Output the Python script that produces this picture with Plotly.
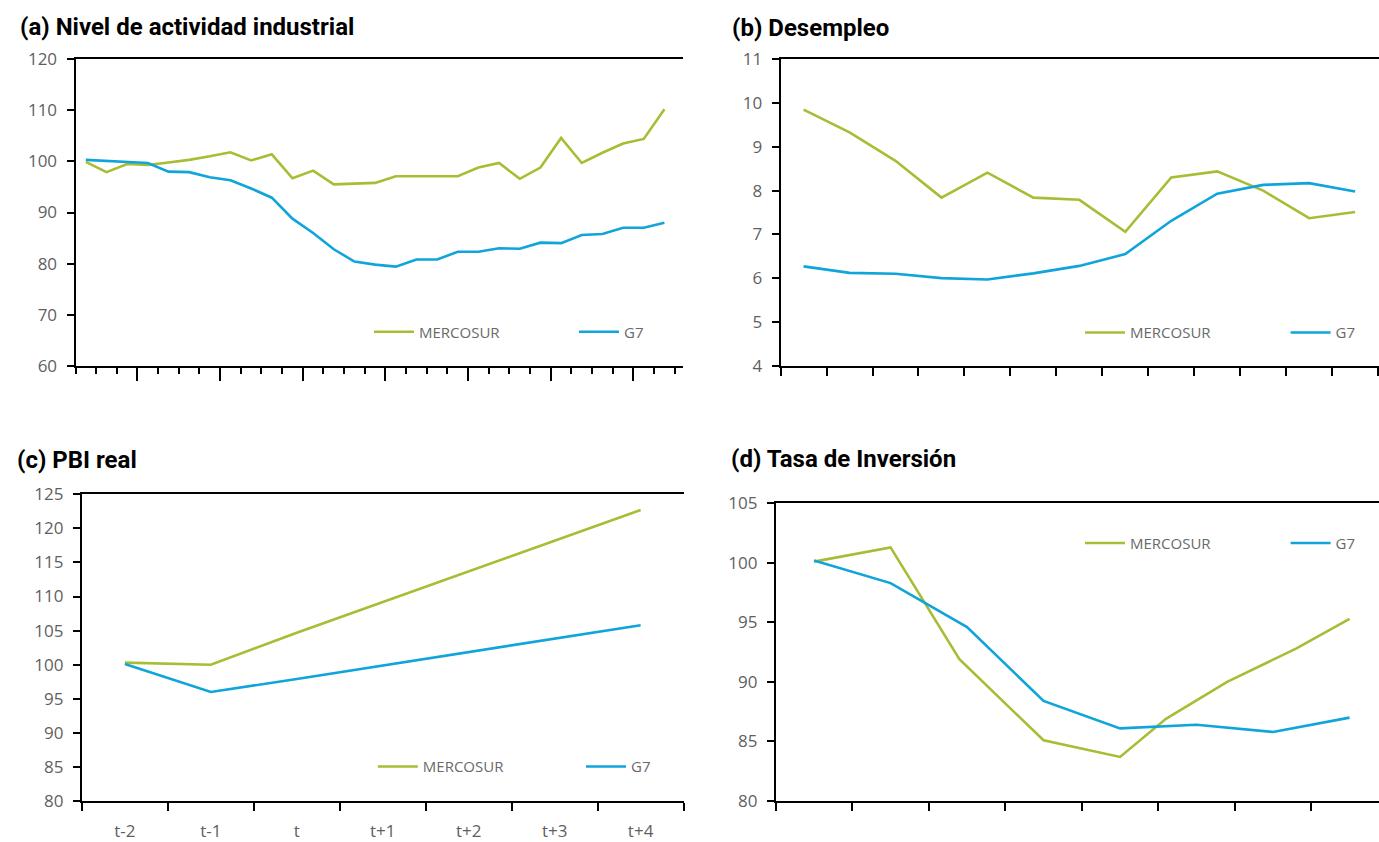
import plotly.graph_objects as go

W, H = 1379, 842

# ---------------- data ----------------
# (a) Nivel de actividad industrial
ind_mercosur = [99.9, 97.9, 99.5, 99.3, 99.8, 100.3, 101.0, 101.8, 100.2, 101.4,
                96.7, 98.2, 95.5, 95.6, 95.8, 97.1, 97.1, 97.1, 97.1, 98.8,
                99.7, 96.6, 98.8, 104.6, 99.7, 101.7, 103.5, 104.4, 110.2]
ind_g7 = [100.3, 100.1, 99.9, 99.7, 98.0, 97.9, 96.9, 96.3, 94.7, 92.9,
          88.8, 86.0, 82.8, 80.4, 79.8, 79.4, 80.8, 80.8, 82.3, 82.3,
          83.0, 82.9, 84.1, 84.0, 85.6, 85.8, 87.0, 87.0, 88.0]

# (b) Desempleo
des_mercosur = [9.85, 9.33, 8.68, 7.84, 8.41, 7.84, 7.79, 7.06, 8.30, 8.44, 8.00, 7.37, 7.51]
des_g7 = [6.27, 6.12, 6.10, 6.00, 5.97, 6.11, 6.28, 6.55, 7.31, 7.93, 8.13, 8.17, 7.98]

# (c) PBI real
pbi_labels = ["t-2", "t-1", "t", "t+1", "t+2", "t+3", "t+4"]
pbi_mercosur = [100.3, 100.0, 104.7, 109.2, 113.8, 118.3, 122.7]
pbi_g7 = [100.1, 96.0, 97.9, 99.9, 101.9, 103.9, 105.8]

# (d) Tasa de Inversión
inv_mercosur_x = [0, 1, 1.9, 3, 4, 4.6, 5.4, 6.3, 7]
inv_mercosur = [100.1, 101.3, 91.9, 85.1, 83.7, 86.9, 90.0, 92.8, 95.3]
inv_g7 = [100.2, 98.3, 94.6, 88.4, 86.1, 86.4, 85.8, 87.0]

series_names = ["MERCOSUR", "G7"]

# ---------------- style ----------------
GREEN = "#A7BD34"
BLUE = "#0FA5DA"
GRAY = "#5f5f5f"
TICK_FONT = dict(family="Open Sans, Noto Sans, sans-serif", size=17, color=GRAY)
TITLE_FONT = dict(family="Roboto, sans-serif", size=24, color="black")
LEG_FONT = dict(family="Open Sans, Noto Sans, sans-serif", size=15, color="#6a6a6a")
LINE_W = 2.6

fig = go.Figure()


def add_pair(xm, ym, xg, yg, xa, ya, leg_m, leg_g):
    fig.add_trace(go.Scatter(x=xm, y=ym, mode="lines", name=series_names[0],
                             line=dict(color=GREEN, width=LINE_W),
                             xaxis=xa, yaxis=ya, legend=leg_m))
    fig.add_trace(go.Scatter(x=xg, y=yg, mode="lines", name=series_names[1],
                             line=dict(color=BLUE, width=LINE_W),
                             xaxis=xa, yaxis=ya, legend=leg_g))


add_pair(list(range(len(ind_mercosur))), ind_mercosur,
         list(range(len(ind_g7))), ind_g7, "x", "y", "legend", "legend2")
add_pair(list(range(len(des_mercosur))), des_mercosur,
         list(range(len(des_g7))), des_g7, "x2", "y2", "legend3", "legend4")
add_pair(list(range(len(pbi_mercosur))), pbi_mercosur,
         list(range(len(pbi_g7))), pbi_g7, "x3", "y3", "legend5", "legend6")
add_pair(inv_mercosur_x, inv_mercosur,
         list(range(len(inv_g7))), inv_g7, "x4", "y4", "legend7", "legend8")

base_x = dict(showline=True, linecolor="black", linewidth=2, mirror=True,
              showgrid=False, zeroline=False, fixedrange=True, automargin=False,
              ticks="outside", tickcolor="black", tickwidth=1.6)
base_y = dict(showline=True, linecolor="black", linewidth=2, mirror=False,
              showgrid=False, zeroline=False, fixedrange=True, automargin=False,
              ticks="outside", tickcolor="black", tickwidth=1.6, ticklen=7,
              tickfont=TICK_FONT, ticklabelstandoff=6)


def bounds(n):
    return [k - 0.5 for k in range(n + 1)]


n_a = len(ind_mercosur)
fig.update_layout(
    xaxis=dict(base_x, domain=[75.5 / W, 683 / W], anchor="y", range=[-0.5, n_a - 0.1],
               tickmode="array", tickvals=bounds(n_a)[3::4], ticklen=13, showticklabels=False,
               minor=dict(tickmode="array", tickvals=bounds(n_a), ticks="outside",
                          ticklen=6, tickwidth=1.6, tickcolor="black")),
    yaxis=dict(base_y, domain=[1 - 365.7 / H, 1 - 59.3 / H], anchor="x",
               range=[60, 120], tickmode="linear", tick0=60, dtick=10),
    xaxis2=dict(base_x, domain=[780.6 / W, 1.0], anchor="y2", range=[-0.5, 12.52],
                tickmode="array", tickvals=bounds(len(des_mercosur)), ticklen=8,
                showticklabels=False),
    yaxis2=dict(base_y, domain=[1 - 365.7 / H, 1 - 59.3 / H], anchor="x2",
                range=[4, 11], tickmode="linear", tick0=4, dtick=1),
    xaxis3=dict(base_x, domain=[81.9 / W, 683.6 / W], anchor="y3", range=[-0.5, 6.5],
                tickmode="array", tickvals=list(range(len(pbi_labels))), ticktext=pbi_labels,
                ticks="", tickfont=TICK_FONT, ticklabelstandoff=14,
                minor=dict(tickmode="array", tickvals=bounds(len(pbi_labels)), ticks="outside",
                           ticklen=8, tickwidth=1.6, tickcolor="black")),
    yaxis3=dict(base_y, domain=[1 - 801 / H, 1 - 494.3 / H], anchor="x3",
                range=[80, 125], tickmode="linear", tick0=80, dtick=5),
    xaxis4=dict(base_x, domain=[775.8 / W, 1.0], anchor="y4", range=[-0.5, 7.385],
                tickmode="array", tickvals=bounds(len(inv_g7)), ticklen=8,
                showticklabels=False),
    yaxis4=dict(base_y, domain=[1 - 801 / H, 1 - 503.3 / H], anchor="x4",
                range=[80, 105], tickmode="linear", tick0=80, dtick=5),
)

# one single-entry legend per series and panel: (sample start x, centre y) in pixels
legend_spots = [(375, 332), (580, 332),
                (1086, 332.7), (1291.6, 332.7),
                (378.8, 766.7), (587, 766.7),
                (1086, 543.3), (1291.6, 543.3)]
legend_base = dict(orientation="h", xanchor="left", yanchor="middle",
                   bgcolor="rgba(0,0,0,0)", borderwidth=0, font=LEG_FONT, itemwidth=40)
for i, (px, py) in enumerate(legend_spots):
    key = "legend" if i == 0 else "legend%d" % (i + 1)
    fig.update_layout({key: dict(legend_base, x=(px - 6) / W, y=1 - py / H)})

titles = [
    ("(a) Nivel de actividad industrial", 18, 27),
    ("(b) Desempleo", 730, 28),
    ("(c) PBI real", 15, 460),
    ("(d) Tasa de Inversión", 729, 459),
]
for text, px, py in titles:
    fig.add_annotation(text="<b>%s</b>" % text, xref="paper", yref="paper",
                       x=px / W, y=1 - py / H, xanchor="left", yanchor="middle",
                       showarrow=False, font=TITLE_FONT)

fig.update_layout(width=W, height=H,
                  margin=dict(l=0, r=0, t=0, b=0, pad=0, autoexpand=False),
                  paper_bgcolor="white", plot_bgcolor="white", showlegend=True)

fig.write_html("out.html")
